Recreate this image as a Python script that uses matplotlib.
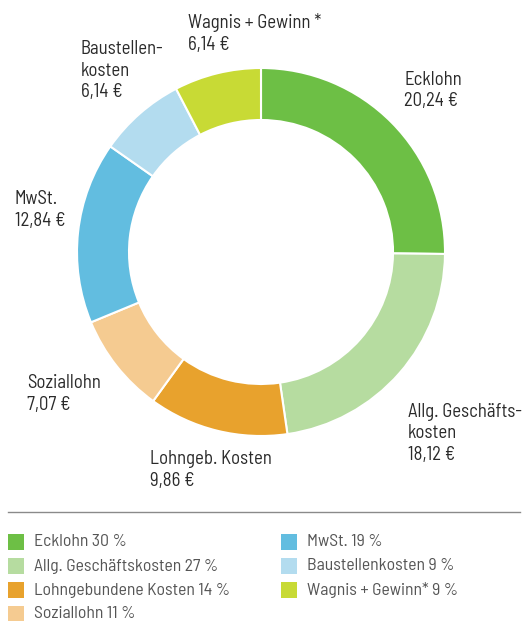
import matplotlib.pyplot as plt

# ================= DATA =================

chart_labels = ["Ecklohn", "Allg. Geschäfts-\nkosten", "Lohngeb. Kosten", "Soziallohn",
                "MwSt.", "Baustellen-\nkosten", "Wagnis + Gewinn *"]
euro_values = [20.24, 18.12, 9.86, 7.07, 12.84, 6.14, 6.14]
legend_names = ["Ecklohn", "Allg. Geschäftskosten", "Lohngebundene Kosten", "Soziallohn",
                "MwSt.", "Baustellenkosten", "Wagnis + Gewinn*"]
legend_pct = [30, 27, 14, 11, 19, 9, 9]
colors = ["#6dbf45", "#b6dca0", "#e8a22d", "#f5cb91", "#62bde0", "#b3dcef", "#c8da35"]

W, H = 525, 621
FONT = ["Barlow Semi Condensed", "DejaVu Sans"]

# label anchor (left, top) in pixel coords
label_pos = [(404, 71), (408, 403), (150, 450), (27, 374), (15, 190), (81, 40), (188, 13)]


def fmt_euro(v):
    return f"{v:.2f}".replace(".", ",") + " €"


fig = plt.figure(figsize=(W / 100, H / 100), dpi=100)
ax = fig.add_axes([0, 0, 1, 1])

ax.pie(euro_values, colors=colors, startangle=90, counterclock=False,
       center=(261, H - 252), radius=184,
       wedgeprops=dict(width=52, edgecolor="white", linewidth=1.5))

for lab, v, (x, y) in zip(chart_labels, euro_values, label_pos):
    ax.text(x, H - y, lab + "\n" + fmt_euro(v), ha="left", va="top",
            fontsize=13.5, color="#2a2a2a", family=FONT, linespacing=1.25)

# separator
ax.plot([8, 520], [H - 512, H - 512], color="#8a8a8a", lw=1)

# legend
for i, (name, p, c) in enumerate(zip(legend_names, legend_pct, colors)):
    col, row = (0, i) if i < 4 else (1, i - 4)
    x0 = 8 if col == 0 else 281
    yc = 542 + row * 24
    ax.add_patch(plt.Rectangle((x0, H - yc - 8), 16, 16, color=c, lw=0))
    ax.text(x0 + 26, H - yc, f"{name} {p} %", ha="left", va="center",
            fontsize=12.7, color="#555555", family=FONT)

ax.set_xlim(0, W)
ax.set_ylim(0, H)
ax.set_aspect("auto")
ax.axis("off")

fig.savefig("out.png", dpi=100)
